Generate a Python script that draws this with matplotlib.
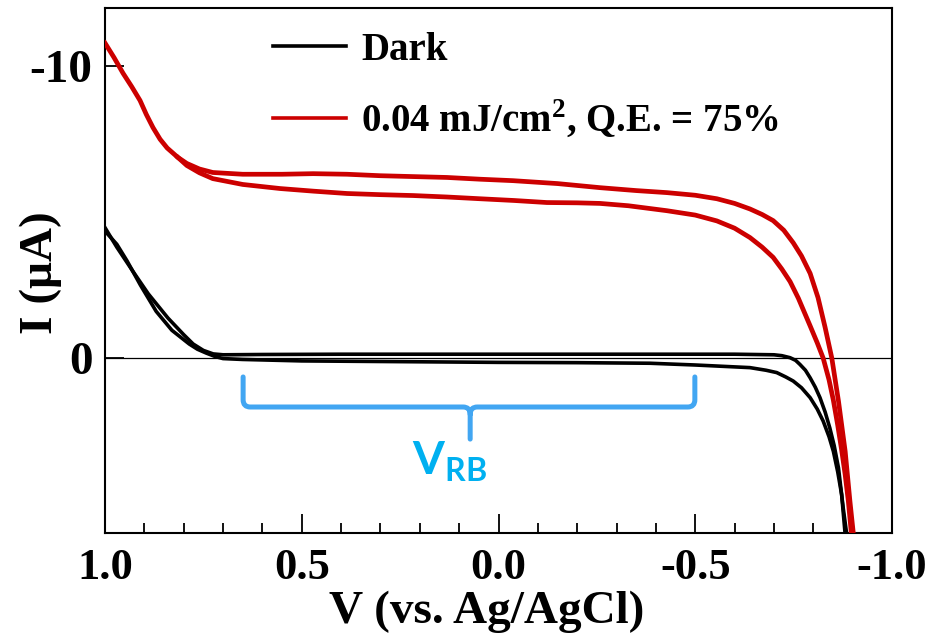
import matplotlib

matplotlib.use("Agg")
import matplotlib.pyplot as plt
from matplotlib.lines import Line2D
from matplotlib.path import Path
from matplotlib.patches import PathPatch
from matplotlib.ticker import MultipleLocator

plt.rcParams.update({
    "font.family": "Liberation Serif",
    "font.weight": "bold",
    "axes.labelweight": "bold",
    "axes.unicode_minus": False,
    "mathtext.fontset": "custom",
    "mathtext.rm": "Liberation Serif:bold",
    "mathtext.bf": "Liberation Serif:bold",
    "mathtext.sf": "Lato:bold",
})

# ---- data (V vs. Ag/AgCl, I in uA) ------------------------------------------
# dark scan, branch that stays slightly negative on the plateau
DARK_A_V = [1.00, 0.97, 0.93, 0.89, 0.84, 0.80, 0.776, 0.75, 0.725, 0.70,
            0.60, 0.40, 0.20, 0.00, -0.20, -0.40, -0.60, -0.70, -0.72, -0.741,
            -0.755, -0.766, -0.78, -0.792, -0.805, -0.817, -0.83, -0.842,
            -0.853, -0.864, -0.876, -0.885]
DARK_A_I = [-4.47, -3.80, -2.99, -2.20, -1.37, -0.80, -0.48, -0.26, -0.14, -0.11,
            -0.12, -0.13, -0.13, -0.13, -0.13, -0.13, -0.13, -0.11, -0.08, -0.01,
            0.08, 0.22, 0.42, 0.68, 1.00, 1.36, 1.85, 2.40,
            3.00, 3.77, 5.14, 6.05]
# dark scan, branch that sits slightly positive on the plateau
DARK_B_V = [1.00, 0.97, 0.944, 0.91, 0.87, 0.83, 0.786, 0.765, 0.743, 0.72,
            0.70, 0.65, 0.50, 0.30, 0.00, -0.20, -0.385, -0.50, -0.639, -0.68,
            -0.707, -0.73, -0.749, -0.77, -0.792, -0.81, -0.825, -0.84,
            -0.851, -0.862, -0.872, -0.881]
DARK_B_I = [-4.35, -3.90, -3.33, -2.50, -1.60, -0.95, -0.48, -0.30, -0.17, -0.05,
            0.02, 0.05, 0.10, 0.12, 0.15, 0.16, 0.18, 0.24, 0.33, 0.42,
            0.50, 0.65, 0.79, 1.02, 1.36, 1.75, 2.16, 2.70,
            3.20, 3.90, 4.68, 6.05]
# illuminated scan, outer branch
LIGHT_A_V = [1.00, 0.977, 0.954, 0.932, 0.911, 0.895, 0.878, 0.86, 0.842, 0.815,
             0.792, 0.76, 0.726, 0.65, 0.55, 0.471, 0.385, 0.301, 0.217, 0.131,
             0.047, -0.037, -0.15, -0.258, -0.35, -0.428, -0.50, -0.555, -0.60,
             -0.639, -0.67, -0.698, -0.725, -0.749, -0.77, -0.792, -0.812,
             -0.83, -0.847, -0.864, -0.881, -0.893, -0.902]
LIGHT_A_I = [-10.80, -10.30, -9.76, -9.30, -8.83, -8.35, -7.90, -7.50, -7.20, -6.88,
             -6.67, -6.48, -6.36, -6.30, -6.30, -6.32, -6.30, -6.25, -6.22, -6.19,
             -6.13, -6.08, -5.98, -5.84, -5.74, -5.67, -5.58, -5.46, -5.30,
             -5.11, -4.92, -4.71, -4.38, -3.95, -3.50, -2.90, -2.07,
             -1.05, 0.00, 1.48, 3.20, 4.90, 6.05]
# illuminated scan, inner branch
LIGHT_B_V = [0.815, 0.792, 0.76, 0.726, 0.65, 0.555, 0.47, 0.385, 0.30, 0.217,
             0.131, 0.047, -0.04, -0.123, -0.20, -0.258, -0.33, -0.428, -0.50,
             -0.555, -0.60, -0.639, -0.67, -0.698, -0.72, -0.741, -0.762, -0.792,
             -0.81, -0.825, -0.84, -0.851, -0.862, -0.872, -0.881, -0.889, -0.897]
LIGHT_B_I = [-6.88, -6.60, -6.35, -6.15, -5.95, -5.81, -5.72, -5.64, -5.60, -5.57,
             -5.52, -5.46, -5.40, -5.33, -5.32, -5.30, -5.22, -5.05, -4.90,
             -4.70, -4.45, -4.13, -3.80, -3.45, -3.05, -2.62, -2.05, -1.10,
             -0.52, 0.00, 0.75, 1.45, 2.30, 3.15, 4.00, 4.90, 6.05]

XTICKS = [1.0, 0.5, 0.0, -0.5, -1.0]
XTICKLABELS = ["1.0", "0.5", "0.0", "-0.5", "-1.0"]
YTICKS = [-10, 0]
YTICKLABELS = ["-10", "0"]
LABELS = ["Dark", "0.04 mJ/cm$^{\\mathbf{2}}$, Q.E. = 75%"]

RED, BLUE, CYAN = "#cc0000", "#42a6f2", "#00b0f0"

# brace marking the V_RB window
BRACE_L, BRACE_R, BRACE_MID = 0.649, -0.499, 0.072
BRACE_TOP, BRACE_BAR, BRACE_TIP = 0.65, 1.68, 2.78


def brace_path(dx=0.018, dy=0.25):
    L, R, M = BRACE_L, BRACE_R, BRACE_MID
    verts = [
        (L, BRACE_TOP), (L, BRACE_BAR - dy), (L, BRACE_BAR), (L - dx, BRACE_BAR),
        (M + dx, BRACE_BAR), (M, BRACE_BAR), (M, BRACE_BAR + dy), (M, BRACE_TIP),
        (R, BRACE_TOP), (R, BRACE_BAR - dy), (R, BRACE_BAR), (R + dx, BRACE_BAR),
        (M - dx, BRACE_BAR), (M, BRACE_BAR), (M, BRACE_BAR + dy),
    ]
    codes = [
        Path.MOVETO, Path.LINETO, Path.CURVE3, Path.CURVE3,
        Path.LINETO, Path.CURVE3, Path.CURVE3, Path.LINETO,
        Path.MOVETO, Path.LINETO, Path.CURVE3, Path.CURVE3,
        Path.LINETO, Path.CURVE3, Path.CURVE3,
    ]
    return Path(verts, codes)


fig = plt.figure(figsize=(9.51, 6.42), dpi=100)
ax = fig.add_axes([105 / 951, 1 - 533 / 642, 787 / 951, 525 / 642])

ax.axhline(0, color="k", lw=0.9, zorder=1)
ax.plot(DARK_A_V, DARK_A_I, color="k", lw=2.6, zorder=2)
ax.plot(DARK_B_V, DARK_B_I, color="k", lw=2.6, zorder=2)
ax.plot(LIGHT_A_V, LIGHT_A_I, color=RED, lw=3.4, zorder=3)
ax.plot(LIGHT_B_V, LIGHT_B_I, color=RED, lw=3.4, zorder=3)

ax.add_patch(PathPatch(brace_path(), fill=False, edgecolor=BLUE, lw=3.6,
                       capstyle="round", joinstyle="round", zorder=4))
ax.text(0.22, 3.99, r"$\mathsf{V}_{\mathsf{RB}}$", color=CYAN, fontsize=33,
        ha="left", va="baseline")

ax.set_xlim(1.0, -1.0)
ax.set_ylim(6, -12)
ax.set_xticks(XTICKS)
ax.set_xticklabels(XTICKLABELS)
ax.set_yticks(YTICKS)
ax.set_yticklabels(YTICKLABELS)
ax.xaxis.set_minor_locator(MultipleLocator(0.1))
ax.tick_params(axis="x", which="major", direction="in", length=14, width=1.3,
               pad=11, labelsize=32, top=False)
ax.tick_params(axis="x", which="minor", direction="in", length=7, width=1.3,
               top=False)
ax.tick_params(axis="y", which="major", direction="in", length=14, width=1.3,
               pad=9, labelsize=34, right=False)
for s in ax.spines.values():
    s.set_linewidth(1.5)

ax.set_xlabel("V (vs. Ag/AgCl)", fontsize=34, fontweight="bold")
ax.xaxis.set_label_coords(0.485, -0.11)
ax.set_ylabel("I (μA)", fontsize=34, fontweight="bold")
ax.yaxis.set_label_coords(-0.055, 0.495)

handles = [Line2D([], [], color="k", lw=2.6), Line2D([], [], color=RED, lw=2.6)]
ax.legend(handles, LABELS, loc="upper left",
          bbox_to_anchor=((273 - 105) / 787, (533 - 32) / 525),
          frameon=False, fontsize=28, handlelength=1.88, handletextpad=0.39,
          labelspacing=0.75, borderpad=0, borderaxespad=0)

fig.savefig("out.png", dpi=100)
